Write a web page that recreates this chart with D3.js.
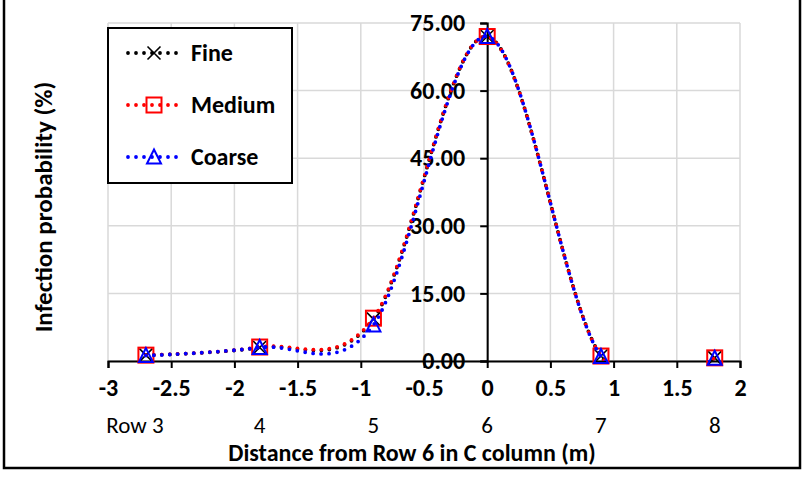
<!DOCTYPE html>
<html>
<head>
<meta charset="utf-8">
<script src="https://cdn.jsdelivr.net/npm/d3@7"></script>
<style>
  html, body { margin: 0; padding: 0; background: #fff; }
  svg { display: block; }
  text { font-family: Carlito, Lato, "Open Sans", sans-serif; fill: #000; }
</style>
</head>
<body>
<svg id="chart" width="810" height="477"></svg>
<script>
// Distance from Row 6 (m) of each sampled row
const distances = [-2.7, -1.8, -0.9, 0, 0.9, 1.8];
const rowLabels = ["Row 3", "4", "5", "6", "7", "8"];

// Infection probability (%) per mesh resolution
const fine   = [1.3, 3.0, 9.3, 72.0, 1.1, 0.7];
const medium = [1.3, 3.1, 9.5, 72.0, 1.1, 0.7];
const coarse = [1.2, 3.0, 8.0, 72.0, 1.0, 0.6];

const xTicks = [-3, -2.5, -2, -1.5, -1, -0.5, 0, 0.5, 1, 1.5, 2];
const yTicks = [0, 15, 30, 45, 60, 75];

const series = [
  { name: "Fine",   values: fine,   color: "#000000", marker: "cross" },
  { name: "Medium", values: medium, color: "#ff0000", marker: "square" },
  { name: "Coarse", values: coarse, color: "#0000ff", marker: "triangle" }
];

const FONT = 24;

const svg = d3.select("#chart");

const x = d3.scaleLinear().domain([-3, 2]).range([108, 740]);
const y = d3.scaleLinear().domain([0, 75]).range([361, 23]);

// outer frame
svg.append("rect")
  .attr("x", 4).attr("y", -10).attr("width", 796).attr("height", 478)
  .attr("fill", "#fff").attr("stroke", "#000").attr("stroke-width", 2.5);

// gridlines
const grid = svg.append("g").attr("stroke", "#d9d9d9").attr("stroke-width", 1.5);
grid.selectAll("line.v").data(xTicks).join("line")
  .attr("class", "v")
  .attr("x1", d => x(d)).attr("x2", d => x(d))
  .attr("y1", y(75)).attr("y2", y(0));
grid.selectAll("line.h").data(yTicks).join("line")
  .attr("class", "h")
  .attr("x1", x(-3)).attr("x2", x(2))
  .attr("y1", d => y(d)).attr("y2", d => y(d));

// y axis through x = 0
const yAxis = d3.axisLeft(y).tickValues(yTicks).tickSize(7).tickPadding(15)
  .tickFormat(d3.format(".2f"));
const gy = svg.append("g").attr("transform", `translate(${x(0)},0)`).call(yAxis);
gy.select(".domain").attr("stroke", "#000").attr("stroke-width", 2);
gy.selectAll(".tick line").attr("stroke", "#000").attr("stroke-width", 2);
gy.selectAll(".tick text")
  .style("font-family", "Carlito, Lato, sans-serif")
  .attr("font-size", FONT).attr("font-weight", "bold").attr("fill", "#000");

// x axis along y = 0
const xAxis = d3.axisBottom(x).tickValues(xTicks).tickSize(7).tickPadding(11)
  .tickFormat(d => String(d));
const gx = svg.append("g").attr("transform", `translate(0,${y(0)})`).call(xAxis);
gx.select(".domain").attr("stroke", "#000").attr("stroke-width", 2);
gx.selectAll(".tick line").attr("stroke", "#000").attr("stroke-width", 2);
gx.selectAll(".tick text")
  .style("font-family", "Carlito, Lato, sans-serif")
  .attr("font-size", FONT).attr("font-weight", "bold").attr("fill", "#000");

// row labels under the axis
svg.append("g").selectAll("text").data(distances).join("text")
  .attr("x", (d, i) => i === 0 ? x(d) - 11 : x(d))
  .attr("y", 433)
  .attr("text-anchor", "middle")
  .attr("font-size", FONT - 1)
  .text((d, i) => rowLabels[i]);

// axis titles
svg.append("text")
  .attr("x", 412).attr("y", 461)
  .attr("text-anchor", "middle")
  .attr("font-size", FONT).attr("font-weight", "bold")
  .text("Distance from Row 6 in C column (m)");

svg.append("text")
  .attr("transform", "translate(52,207) rotate(-90)")
  .attr("text-anchor", "middle")
  .attr("font-size", FONT + 1).attr("font-weight", "bold")
  .text("Infection probability (%)");

// clip region for the smoothed curves
svg.append("clipPath").attr("id", "plot-clip")
  .append("rect")
  .attr("x", x(-3)).attr("y", y(75))
  .attr("width", x(2) - x(-3)).attr("height", y(0) - y(75));

const line = d3.line()
  .x(d => x(d[0])).y(d => y(d[1]))
  .curve(d3.curveCardinal.tension(0));

function drawMarker(g, type, color, cx, cy) {
  if (type === "cross") {
    const r = 6.5;
    g.append("path")
      .attr("d", `M${cx - r},${cy - r}L${cx + r},${cy + r}M${cx - r},${cy + r}L${cx + r},${cy - r}`)
      .attr("stroke", color).attr("stroke-width", 1.6).attr("fill", "none");
  } else if (type === "square") {
    const s = 15;
    g.append("rect")
      .attr("x", cx - s / 2).attr("y", cy - s / 2).attr("width", s).attr("height", s)
      .attr("stroke", color).attr("stroke-width", 2).attr("fill", "none");
  } else {
    const h = 13, w = 14;
    g.append("path")
      .attr("d", `M${cx},${cy - h / 2 - 1}L${cx + w / 2},${cy + h / 2}L${cx - w / 2},${cy + h / 2}Z`)
      .attr("stroke", color).attr("stroke-width", 2).attr("fill", "none");
  }
}

const plot = svg.append("g");
series.forEach(s => {
  const pts = distances.map((d, i) => [d, s.values[i]]);
  plot.append("path")
    .attr("clip-path", "url(#plot-clip)")
    .attr("d", line(pts))
    .attr("fill", "none")
    .attr("stroke", s.color)
    .attr("stroke-width", 3.8)
    .attr("stroke-linecap", "round")
    .attr("stroke-dasharray", "0 8");
  const mg = plot.append("g");
  pts.forEach(p => drawMarker(mg, s.marker, s.color, x(p[0]), y(p[1])));
});

// legend
const legend = svg.append("g");
legend.append("rect")
  .attr("x", 108).attr("y", 28).attr("width", 184).attr("height", 155)
  .attr("fill", "#fff").attr("stroke", "#000").attr("stroke-width", 2);
series.forEach((s, i) => {
  const ly = 53 + i * 52;
  legend.append("line")
    .attr("x1", 128).attr("x2", 180).attr("y1", ly).attr("y2", ly)
    .attr("stroke", s.color).attr("stroke-width", 3.8)
    .attr("stroke-linecap", "round").attr("stroke-dasharray", "0 8");
  drawMarker(legend, s.marker, s.color, 154, ly);
  legend.append("text")
    .attr("x", 191).attr("y", ly + 8)
    .attr("font-size", FONT).attr("font-weight", "bold")
    .text(s.name);
});
</script>
</body>
</html>
